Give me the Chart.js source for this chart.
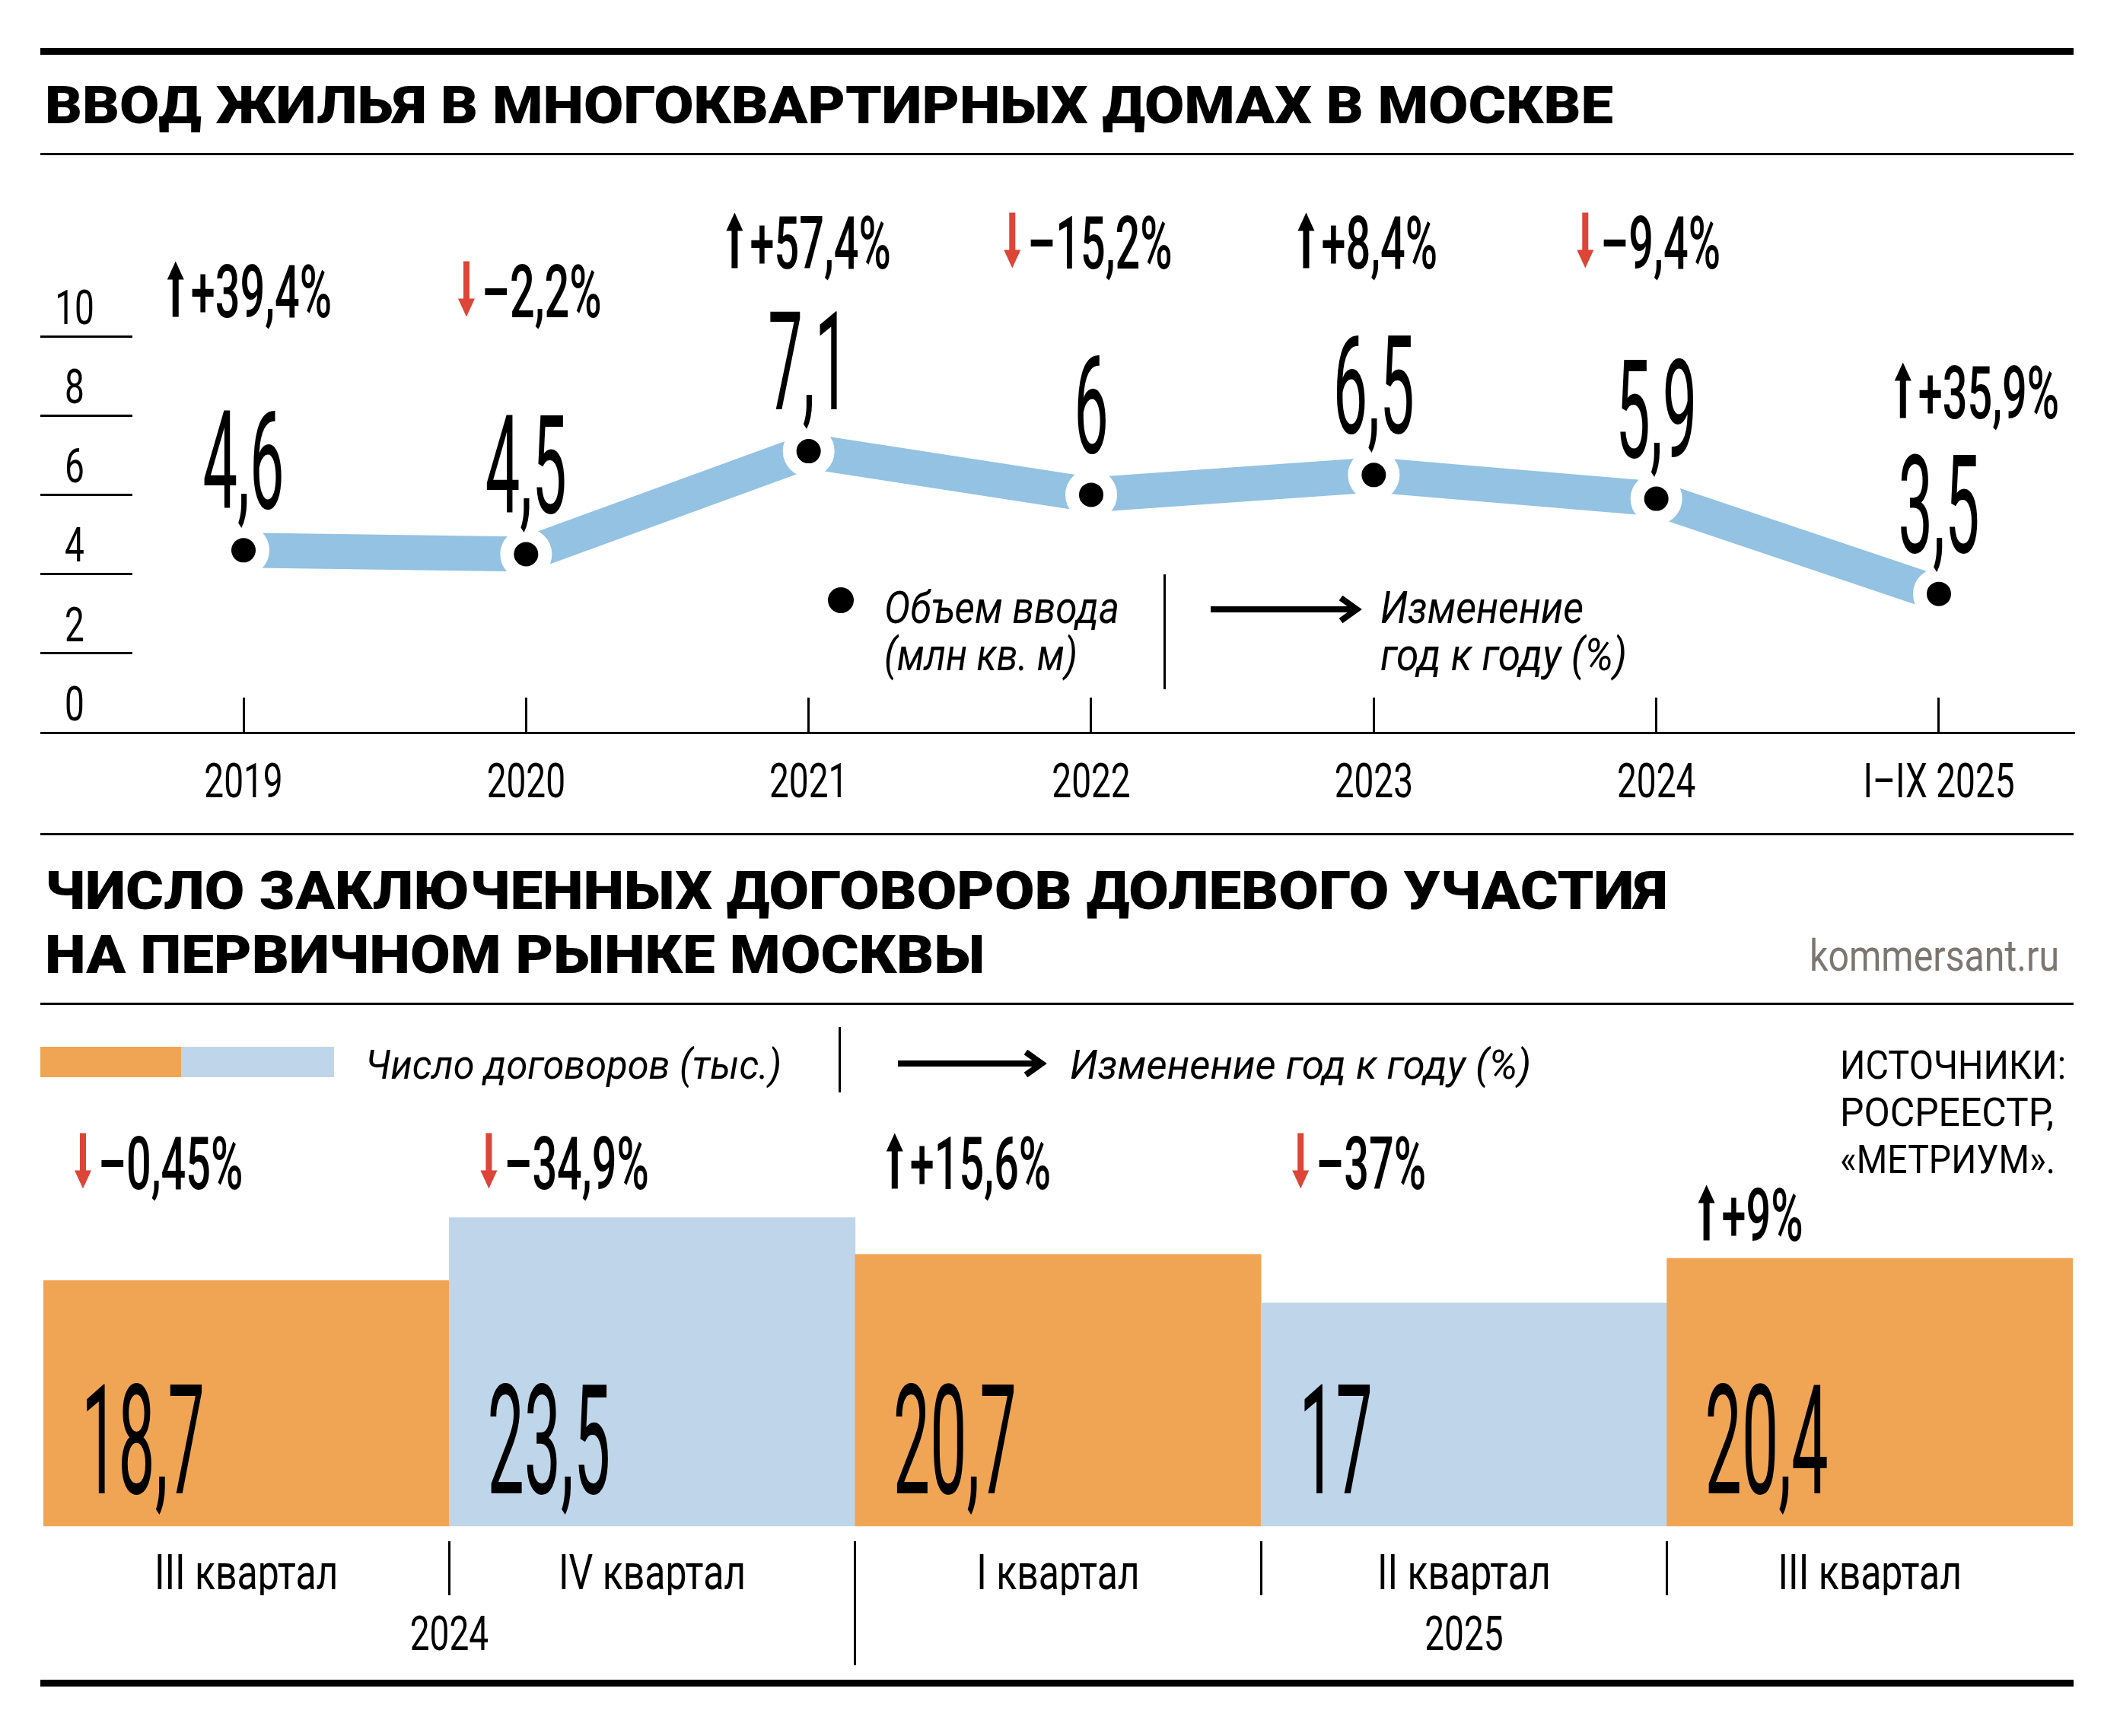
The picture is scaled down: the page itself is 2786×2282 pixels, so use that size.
<!DOCTYPE html>
<html lang="ru"><head><meta charset="utf-8">
<title>Ввод жилья и ДДУ в Москве</title>
<script src="https://cdn.jsdelivr.net/npm/chart.js@4.4.1/dist/chart.umd.min.js"></script>
<style>
html,body{margin:0;padding:0;background:#fff;}
#page{position:relative;width:2786px;height:2282px;overflow:hidden;background:#fff;}
#page canvas{position:absolute;left:0;top:0;}
.txt{position:absolute;white-space:nowrap;transform-origin:0 0;margin:0;padding:0;}
</style></head>
<body><div id="page">
<canvas id="lineChart" width="2786" height="1096"></canvas>
<canvas id="barChart" width="2786" height="2282"></canvas>
<div id="deco"></div>
</div>
<script>
// ---------------- DATA ----------------
const years = ['2019', '2020', '2021', '2022', '2023', '2024', 'I–IX 2025'];
const housingVolume = [4.6, 4.5, 7.1, 6, 6.5, 5.9, 3.5];          // млн кв. м
const housingChange = [39.4, -2.2, 57.4, -15.2, 8.4, -9.4, 35.9];  // % год к году
const volumeTicks = [0, 2, 4, 6, 8, 10];
const quarters = ['III квартал', 'IV квартал', 'I квартал', 'II квартал', 'III квартал'];
const quarterYears = ['2024', '2024', '2025', '2025', '2025'];
const contracts = [18.7, 23.5, 20.7, 17, 20.4];                   // тыс.
const contractsChange = [-0.45, -34.9, 15.6, -37, 9];              // % год к году

// ---------------- STYLE ----------------
const BLACK = '#000', RED = '#DC4537', LINE_BLUE = '#93C2E2', ORANGE = '#F0A555', PALE_BLUE = '#BFD5E9', GRAY = '#7b7671';
const FONT = 'Roboto';

// condensed canvas text: a font string carrying "sxNN" is drawn horizontally scaled by NN/100
(function () {
  const P = CanvasRenderingContext2D.prototype, orig = P.fillText;
  P.fillText = function (t, x, y, mw) {
    const m = /sx(\d+)/.exec(this.font);
    if (!m) return mw === undefined ? orig.call(this, t, x, y) : orig.call(this, t, x, y, mw);
    const s = +m[1] / 100;
    this.save(); this.translate(x, y); this.scale(s, 1);
    orig.call(this, t, 0, 0);
    this.restore();
  };
})();
function cf(weight, size, sx, italic) { return (italic ? 'italic ' : '') + weight + ' ' + size + 'px ' + FONT + ', sx' + Math.round(sx * 100); }
const mctx = document.createElement('canvas').getContext('2d');
function capRatio(weight, style) { mctx.font = style + ' ' + weight + ' 100px ' + FONT; return mctx.measureText('H').actualBoundingBoxAscent / 100; }

const PCT = { weight: 500, size: 96, sx: 0.6 };
const ARROW = { w: 22, shaft: 8, head: 24, gap: 9 };
const VAL_TOP = { weight: 400, size: 180, sx: 0.45 };
const VAL_BAR = { weight: 400, size: 200, sx: 0.43 };
const TICK_FONT = { family: FONT + ', sx73', size: 63, weight: 400, lineHeight: 1 };
const QUARTER_FONT = { family: FONT + ', sx78', size: 64, weight: 400, lineHeight: 1 };

function fmtNum(v) { return String(Math.abs(v)).replace('.', ','); }
function fmtPct(v) { return (v >= 0 ? '+' : '–') + fmtNum(v) + '%'; }

function drawArrow(ctx, x, top, h, up) {
  const c = x + ARROW.w / 2, s = ARROW.shaft / 2, hd = ARROW.head;
  ctx.save(); ctx.fillStyle = up ? BLACK : RED; ctx.beginPath();
  if (up) {
    ctx.moveTo(c, top); ctx.lineTo(x + ARROW.w, top + hd); ctx.lineTo(c + s, top + hd);
    ctx.lineTo(c + s, top + h); ctx.lineTo(c - s, top + h); ctx.lineTo(c - s, top + hd); ctx.lineTo(x, top + hd);
  } else {
    const b = top + h;
    ctx.moveTo(c, b); ctx.lineTo(x + ARROW.w, b - hd); ctx.lineTo(c + s, b - hd);
    ctx.lineTo(c + s, top); ctx.lineTo(c - s, top); ctx.lineTo(c - s, b - hd); ctx.lineTo(x, b - hd);
  }
  ctx.closePath(); ctx.fill(); ctx.restore();
}
function drawPct(ctx, v, x, cy, align) {
  const text = fmtPct(v);
  ctx.save();
  ctx.font = cf(PCT.weight, PCT.size, PCT.sx);
  const tw = ctx.measureText(text).width * PCT.sx;
  const capH = PCT.size * capRatio(PCT.weight, 'normal');
  const total = ARROW.w + ARROW.gap + tw;
  const left = align === 'center' ? x - total / 2 : x;
  drawArrow(ctx, left, cy - capH / 2 - 4, capH + 4, v >= 0);
  ctx.fillStyle = BLACK; ctx.textAlign = 'left'; ctx.textBaseline = 'alphabetic';
  ctx.fillText(text, left + ARROW.w + ARROW.gap, cy + capH / 2);
  ctx.restore();
}

// ---------------- LINE CHART ----------------
const AREA = { left: 174, right: 2725, top: 442, bottom: 963, outerLeft: 53, canvasH: 1096 };
const FIRST_X = 320, LAST_X = 2548;
const step = (LAST_X - FIRST_X) / (years.length - 1);
const xMin = -(FIRST_X - AREA.left) / step;
const xMax = (years.length - 1) + (AREA.right - LAST_X) / step;
const Y_TICK_LEN = AREA.left - AREA.outerLeft;
mctx.font = 'normal 400 ' + TICK_FONT.size + 'px ' + TICK_FONT.family;
const widestY = Math.max(...volumeTicks.map(v => mctx.measureText(String(v)).width));
const Y_LABEL_CENTER = 98;
const yPad = AREA.left - Y_TICK_LEN - Y_LABEL_CENTER - widestY / 2;

const TOP_PCT_Y = [382, 382, 318, 318, 318, 318, 515];
const TOP_PCT_DX = [8, 5, 0, -4, -8, -10, 50];
const VAL_GAP = 55;

const lineLabels = {
  id: 'lineLabels',
  afterDatasetsDraw(chart) {
    const ctx = chart.ctx;
    chart.getDatasetMeta(0).data.forEach((p, i) => {
      ctx.save();
      ctx.font = cf(VAL_TOP.weight, VAL_TOP.size, VAL_TOP.sx);
      ctx.fillStyle = BLACK; ctx.textAlign = 'center'; ctx.textBaseline = 'alphabetic';
      ctx.fillText(fmtNum(housingVolume[i]), p.x, p.y - VAL_GAP);
      ctx.restore();
      drawPct(ctx, housingChange[i], p.x + TOP_PCT_DX[i], TOP_PCT_Y[i], 'center');
    });
  }
};

new Chart(document.getElementById('lineChart'), {
  type: 'line',
  data: {
    datasets: [{
      data: housingVolume.map((v, i) => ({ x: i, y: v })),
      borderColor: LINE_BLUE, borderWidth: 46, tension: 0, fill: false,
      pointRadius: 25, pointHoverRadius: 25, pointBorderWidth: 18, pointHoverBorderWidth: 18,
      pointBackgroundColor: BLACK, pointBorderColor: '#fff', clip: false
    }]
  },
  options: {
    responsive: false, animation: false, devicePixelRatio: 1, events: [],
    layout: { padding: { top: AREA.top, left: AREA.outerLeft, right: 2786 - AREA.right, bottom: 0 } },
    plugins: { legend: { display: false }, tooltip: { enabled: false } },
    scales: {
      x: {
        type: 'linear', position: 'bottom', min: xMin, max: xMax, offset: false,
        afterBuildTicks: s => { s.ticks = years.map((_, i) => ({ value: i })); },
        afterFit: s => { s.height = AREA.canvasH - AREA.bottom; },
        grid: { display: true, offset: false, drawOnChartArea: false, drawTicks: true, tickLength: -46, color: BLACK, lineWidth: 3 },
        border: { display: true, color: BLACK, width: 3 },
        ticks: { autoSkip: false, maxRotation: 0, minRotation: 0, padding: 84, color: BLACK, font: TICK_FONT, callback: v => (years[v] !== undefined ? years[v] : '') }
      },
      y: {
        type: 'linear', position: 'left', min: 0, max: 10,
        afterBuildTicks: s => { s.ticks = volumeTicks.map(v => ({ value: v })); },
        afterFit: s => { s.width = Y_TICK_LEN; },
        grid: { drawOnChartArea: false, drawTicks: true, tickLength: Y_TICK_LEN, color: BLACK, lineWidth: 3 },
        border: { display: false },
        ticks: { crossAlign: 'center', labelOffset: -32, padding: yPad, color: BLACK, font: TICK_FONT, callback: v => String(v) }
      }
    }
  },
  plugins: [lineLabels]
});

// ---------------- BAR CHART ----------------
const BAR_AREA = { left: 57, right: 2724, base: 2006, bottom: 2026, quarterAxisH: 71, yearSepLen: 92 };
const BAR_PX_PER_UNIT = 17.25;
const yMinBar = -(BAR_AREA.bottom - BAR_AREA.base) / BAR_PX_PER_UNIT;
const yMaxBar = 30;
const barPadTop = BAR_AREA.bottom - (yMaxBar - yMinBar) * BAR_PX_PER_UNIT;
const BAR_PCT_Y = [1528, 1528, 1528, 1528, 1596];

// year groups built from quarterYears: a centred label per year and a separator between years
const yearTicks = [];
(function () {
  let start = 0;
  for (let i = 1; i <= quarterYears.length; i++) {
    if (i === quarterYears.length || quarterYears[i] !== quarterYears[start]) {
      yearTicks.push({ value: (start + i - 1) / 2, label: quarterYears[start], sep: false });
      if (i < quarterYears.length) yearTicks.push({ value: i - 0.5, label: '', sep: true });
      start = i;
    }
  }
  yearTicks.sort((a, b) => a.value - b.value);
})();

const barLabels = {
  id: 'barLabels',
  afterDatasetsDraw(chart) {
    const ctx = chart.ctx;
    chart.getDatasetMeta(0).data.forEach((b, i) => {
      const left = b.x - b.width / 2;
      ctx.save();
      ctx.font = cf(VAL_BAR.weight, VAL_BAR.size, VAL_BAR.sx);
      ctx.fillStyle = BLACK; ctx.textAlign = 'left'; ctx.textBaseline = 'alphabetic';
      ctx.fillText(fmtNum(contracts[i]), left + 50, b.base - 43);
      ctx.restore();
      drawPct(ctx, contractsChange[i], left + 41, BAR_PCT_Y[i], 'left');
    });
  }
};

new Chart(document.getElementById('barChart'), {
  type: 'bar',
  data: {
    labels: quarters,
    datasets: [{
      data: contracts,
      backgroundColor: c => (c.dataIndex % 2 ? PALE_BLUE : ORANGE),
      borderWidth: 0, barPercentage: 1, categoryPercentage: 1
    }]
  },
  options: {
    responsive: false, animation: false, devicePixelRatio: 1, events: [],
    layout: { padding: { top: barPadTop, left: BAR_AREA.left, right: 2786 - BAR_AREA.right, bottom: 0 } },
    plugins: { legend: { display: false }, tooltip: { enabled: false } },
    scales: {
      x: {
        type: 'category', position: 'bottom', weight: 0, offset: true,
        afterFit: s => { s.height = BAR_AREA.quarterAxisH; },
        grid: { offset: true, drawOnChartArea: false, drawTicks: true, tickLength: BAR_AREA.quarterAxisH, lineWidth: 3,
                color: c => (c.index > 0 && c.index < quarters.length ? BLACK : 'rgba(0,0,0,0)') },
        border: { display: false },
        ticks: { autoSkip: false, maxRotation: 0, minRotation: 0, padding: -56, color: BLACK, font: QUARTER_FONT }
      },
      xYear: {
        type: 'linear', position: 'bottom', weight: 1, min: -0.5, max: quarters.length - 0.5, offset: false,
        afterBuildTicks: s => { s.ticks = yearTicks.map(t => ({ value: t.value })); },
        afterFit: s => { s.height = 2282 - BAR_AREA.bottom - BAR_AREA.quarterAxisH; },
        grid: { offset: false, drawOnChartArea: false, drawTicks: true, tickLength: BAR_AREA.yearSepLen, lineWidth: 3,
                color: c => (yearTicks[c.index] && yearTicks[c.index].sep ? BLACK : 'rgba(0,0,0,0)') },
        border: { display: false },
        ticks: { autoSkip: false, maxRotation: 0, minRotation: 0, padding: -67, color: BLACK, font: TICK_FONT,
                 callback: (v, i) => (yearTicks[i] ? yearTicks[i].label : '') }
      },
      y: { display: false, min: yMinBar, max: yMaxBar }
    }
  },
  plugins: [barLabels]
});

// ---------------- HTML TEXT & DECORATION ----------------
const deco = document.getElementById('deco');
function box(x, y, w, h, color, radius) {
  const d = document.createElement('div');
  Object.assign(d.style, { position: 'absolute', left: x + 'px', top: y + 'px', width: w + 'px', height: h + 'px', background: color || BLACK });
  if (radius) d.style.borderRadius = radius + 'px';
  deco.appendChild(d); return d;
}
function htmlText(str, o) {
  const el = document.createElement('div');
  el.className = 'txt'; el.textContent = str;
  const weight = o.weight || 400, style = o.italic ? 'italic' : 'normal';
  const size = o.capH / capRatio(weight, style);
  const fontStr = style + ' ' + weight + ' ' + size + 'px ' + FONT;
  mctx.font = fontStr;
  const m = mctx.measureText('H');
  const fA = m.fontBoundingBoxAscent, fD = m.fontBoundingBoxDescent;
  el.style.font = fontStr;
  el.style.lineHeight = (fA + fD) + 'px';
  el.style.top = (o.base - fA) + 'px';
  el.style.color = o.color || BLACK;
  deco.appendChild(el);
  const w = el.getBoundingClientRect().width;
  el.style.transform = 'scaleX(' + (o.width / w) + ')';
  el.style.left = (o.right !== undefined ? o.right - o.width : o.x) + 'px';
  return el;
}
function arrowSvg(x1, x2, y) {
  const L = x2 - x1;
  const wrap = document.createElement('div');
  wrap.innerHTML = '<svg width="' + (L + 6) + '" height="40" style="position:absolute;left:' + x1 + 'px;top:' + (y - 20) + 'px;overflow:visible">' +
    '<line x1="0" y1="20" x2="' + (L - 4) + '" y2="20" stroke="#000" stroke-width="8"/>' +
    '<polyline points="' + (L - 24) + ',5 ' + (L - 3) + ',20 ' + (L - 24) + ',35" fill="none" stroke="#000" stroke-width="8"/></svg>';
  deco.appendChild(wrap.firstChild);
}

// rules
box(53, 63, 2672, 9);
box(53, 201, 2672, 3);
box(53, 1095, 2672, 3);
box(53, 1318, 2672, 3);
box(53, 2208, 2672, 9);

// titles
htmlText('ВВОД ЖИЛЬЯ В МНОГОКВАРТИРНЫХ ДОМАХ В МОСКВЕ', { x: 59, base: 162, capH: 50, width: 2061, weight: 900 });
htmlText('ЧИСЛО ЗАКЛЮЧЕННЫХ ДОГОВОРОВ ДОЛЕВОГО УЧАСТИЯ', { x: 59, base: 1195, capH: 51, width: 2132, weight: 900 });
htmlText('НА ПЕРВИЧНОМ РЫНКЕ МОСКВЫ', { x: 59, base: 1279, capH: 51, width: 1235, weight: 900 });
htmlText('kommersant.ru', { right: 2706, base: 1276, capH: 41, width: 328, color: GRAY });

// top legend
box(1088, 772, 34, 34, BLACK, 17);
htmlText('Объем ввода', { x: 1162, base: 819, capH: 42, width: 309, italic: true });
htmlText('(млн кв. м)', { x: 1162, base: 881, capH: 42, width: 254, italic: true });
box(1529, 755, 3, 151);
arrowSvg(1591, 1786, 801);
htmlText('Изменение', { x: 1814, base: 819, capH: 42, width: 267, italic: true });
htmlText('год к году (%)', { x: 1814, base: 881, capH: 42, width: 324, italic: true });

// bottom legend
box(53, 1376, 185, 40, ORANGE);
box(238, 1376, 201, 40, PALE_BLUE);
htmlText('Число договоров (тыс.)', { x: 480, base: 1418, capH: 39, width: 547, italic: true });
box(1102, 1350, 3, 86);
arrowSvg(1180, 1372, 1398);
htmlText('Изменение год к году (%)', { x: 1406, base: 1418, capH: 39, width: 606, italic: true });

// sources
htmlText('ИСТОЧНИКИ:', { x: 2418, base: 1418, capH: 37, width: 297 });
htmlText('РОСРЕЕСТР,', { x: 2418, base: 1480, capH: 37, width: 281 });
htmlText('«МЕТРИУМ».', { x: 2418, base: 1542, capH: 37, width: 283 });
</script></body></html>
